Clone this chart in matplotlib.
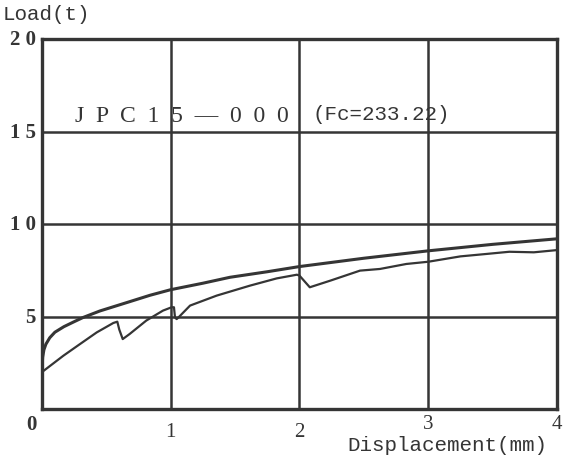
import matplotlib
matplotlib.use("Agg")
import matplotlib.pyplot as plt

# Data (displacement mm, load t)
upper_disp = [0.0, 0.0, 0.005, 0.015, 0.03, 0.06, 0.1, 0.17, 0.25, 0.32, 0.45, 0.68, 0.84,
              1.0, 1.25, 1.46, 1.75, 2.0, 2.5, 3.0, 3.5, 4.0]
upper_load = [0.0, 2.2, 2.8, 3.2, 3.5, 3.85, 4.15, 4.45, 4.72, 4.95, 5.3, 5.8, 6.15,
              6.45, 6.8, 7.12, 7.42, 7.7, 8.15, 8.55, 8.9, 9.2]

lower_disp = [0.0, 0.0, 0.01, 0.166, 0.295, 0.425, 0.554, 0.585, 0.6, 0.627, 0.68, 0.81,
              0.94, 1.007, 1.025, 1.033, 1.046, 1.06, 1.15, 1.357, 1.616, 1.823, 1.98,
              2.0, 2.08, 2.24, 2.47, 2.625, 2.83, 3.0, 3.25, 3.45, 3.63, 3.82, 4.0]
lower_load = [0.0, 1.95, 2.05, 2.88, 3.51, 4.14, 4.65, 4.72, 4.3, 3.78, 4.05, 4.78,
              5.32, 5.5, 5.5, 4.95, 4.86, 4.95, 5.59, 6.13, 6.67, 7.06, 7.26,
              7.21, 6.58, 6.94, 7.48, 7.57, 7.84, 7.96, 8.25, 8.38, 8.5, 8.47, 8.59]

x_ticks = [0, 1, 2, 3, 4]
y_ticks = [0, 5, 10, 15, 20]
y_tick_labels = ["0", "5", "1 0", "1 5", "2 0"]
x_tick_labels = ["", "1", "2", "3", "4"]

title_id = "J  P  C  1  5  —  0  0  0"
title_fc = "(Fc=233.22)"
y_label = "Load(t)"
x_label = "Displacement(mm)"

ink = "#353535"
serif = "Liberation Serif"
mono = "Liberation Mono"

fig = plt.figure(figsize=(5.63, 4.60), dpi=100)
ax = fig.add_axes([0.0746, 0.1087, 0.9147, 0.8043])
ax.set_xlim(0, 4)
ax.set_ylim(0, 20)

for xv in x_ticks[1:-1]:
    ax.axvline(xv, color=ink, lw=1.8, zorder=1)
for yv in y_ticks[1:-1]:
    ax.axhline(yv, color=ink, lw=1.8, zorder=1)

ax.plot(upper_disp, upper_load, color=ink, lw=2.2, zorder=3, solid_joinstyle="round")
ax.plot(lower_disp, lower_load, color=ink, lw=1.6, zorder=3, solid_joinstyle="round")

for s in ax.spines.values():
    s.set_linewidth(2.4)
    s.set_color(ink)

ax.set_xticks([])
ax.set_yticks([])

# x tick labels (heights vary slightly in the scan)
x_label_y = [-0.27, -0.7, -0.7, -0.27, -0.27]
for xv, lab, yy in zip(x_ticks, x_tick_labels, x_label_y):
    if lab:
        ax.text(xv, yy, lab, ha="center", va="top", fontsize=15, color=ink,
                family=serif, clip_on=False)
# y tick labels
for yv, lab in zip(y_ticks, y_tick_labels):
    if yv == 0:
        ax.text(-0.04, -0.27, lab, ha="right", va="top", fontsize=15, color=ink,
                family=serif, fontweight="bold", clip_on=False)
    else:
        ax.text(-0.05, yv, lab, ha="right", va="center", fontsize=15, color=ink,
                family=serif, fontweight="bold", clip_on=False)

ax.text(0.256, 15.85, title_id, ha="left", va="center", fontsize=17, color=ink,
        family=serif, zorder=4)
ax.text(2.1, 15.95, title_fc, ha="left", va="center", fontsize=15, color=ink,
        family=mono, zorder=4)

fig.text(3 / 563, 1 - 14 / 460, y_label, ha="left", va="center", fontsize=15,
         color=ink, family=mono)
fig.text(547 / 563, 1 - 446 / 460, x_label, ha="right", va="center", fontsize=15,
         color=ink, family=mono)

fig.savefig("out.png", dpi=100)
